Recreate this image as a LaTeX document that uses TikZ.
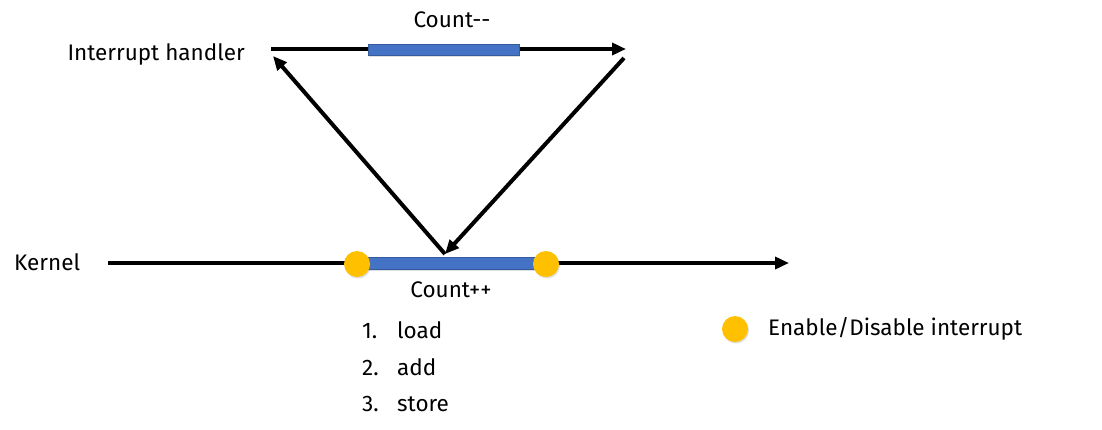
\documentclass[tikz,border=0pt]{standalone}
\usepackage{fontspec}
\setmainfont{Fira Sans}
\usepackage{xcolor}
\usetikzlibrary{arrows.meta, positioning, shadows}
\definecolor{barblue}{HTML}{4472C4}
\definecolor{dotyellow}{HTML}{FFC000}
\newcommand{\steplabel}[2]{\makebox[35pt][l]{#1}#2}

\begin{document}
\begin{tikzpicture}[x=1pt, y=-1pt, font=\fontsize{22.5}{27}\selectfont,
  flow/.style={line width=4pt, -{Triangle[length=14pt, width=12pt]}},
  bar/.style={fill=barblue, draw=barblue!80!black, line width=0.4pt, inner sep=0pt,
    drop shadow={opacity=0.25, shadow xshift=1pt, shadow yshift=-1.5pt}},
  dot/.style={circle, fill=dotyellow, inner sep=0pt, minimum size=26pt,
    drop shadow={opacity=0.25, shadow xshift=1pt, shadow yshift=-1.5pt}},
  lbl/.style={inner sep=0pt}]
  \useasboundingbox (0,0) rectangle (1102,429);

  \coordinate (H0) at (271, 49);
  \coordinate (H1) at (626, 49);
  \coordinate (K0) at (108, 263);
  \coordinate (K1) at (789, 263);
  \coordinate (HR) at (624, 58);
  \coordinate (KM) at (445, 254);

  \draw[flow] (H0) -- (H1);
  \draw[flow] (K0) -- (K1);
  \draw[flow] (KM) -- ++(-172, -198);
  \draw[flow] (HR) -- (KM);

  \node[bar, minimum width=151pt, minimum height=11pt] (dec) at (443.5, 49.5) {};
  \node[bar, minimum width=189pt, minimum height=12pt] (inc) at (451.5, 263) {};
  \node[dot] (en)  at (357, 264) {};
  \node[dot] (dis) at (546, 264) {};

  \node[lbl] (declbl) at (452, 20) {Count{-}{-}};
  \node[lbl] (inclbl) at (451, 290) {Count++};
  \node[lbl, anchor=east] (hlbl) at (245, 54) {Interrupt handler};
  \node[lbl, anchor=west] (klbl) at (14, 262) {Kernel};

  \node[lbl, anchor=west] (s1) at (362, 330) {\steplabel{1.}{load}};
  \node[lbl, anchor=west] (s2) at (362, 367) {\steplabel{2.}{add}};
  \node[lbl, anchor=west] (s3) at (362, 404) {\steplabel{3.}{store}};

  \node[dot] (key) at (735, 329) {};
  \node[lbl, anchor=west] (keylbl) at (768, 329) {Enable/Disable interrupt};
\end{tikzpicture}
\end{document}
